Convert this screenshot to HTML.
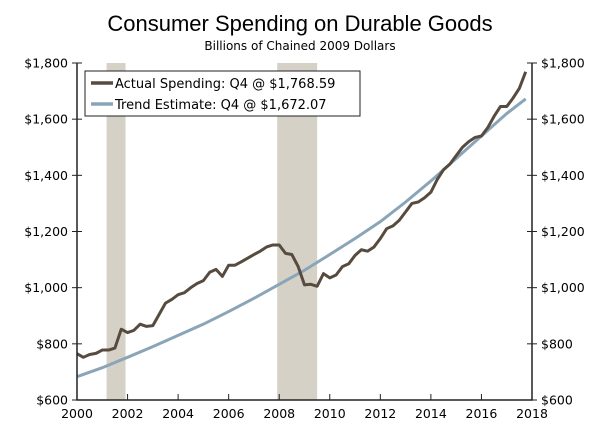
<!DOCTYPE html>
<html><head><meta charset="utf-8"><style>
html,body{margin:0;padding:0;background:#fff}
svg{display:block;font-family:"DejaVu Sans","Liberation Sans",sans-serif}
</style></head><body>
<svg id="chart" width="600" height="438">
<text x="300" y="31" text-anchor="middle" font-size="22" font-family="Liberation Sans, sans-serif" fill="#000">Consumer Spending on Durable Goods</text>
<text x="300" y="50" text-anchor="middle" font-size="12" fill="#000">Billions of Chained 2009 Dollars</text>
<g id="bands"></g><g id="grid"></g><g id="lines"></g><g id="axes"></g>
<g>
<rect x="85" y="71" width="275" height="45" fill="#fff" stroke="#222" stroke-width="1"/>
<line x1="91" y1="83" x2="113" y2="83" stroke="#574b40" stroke-width="3.5"/>
<text x="115" y="88" font-size="13">Actual Spending: Q4 @ $1,768.59</text>
<line x1="91" y1="104" x2="113" y2="104" stroke="#8aa5b8" stroke-width="3.5"/>
<text x="115" y="109" font-size="13">Trend Estimate: Q4 @ $1,672.07</text>
</g>
</svg>
<script>
const actual=[765,752,762,766, 778,778,785,852, 840,848,870,862, 865,905,945,958, 975,982,1000,1015, 1025,1055,1065,1040, 1080,1080,1092,1105, 1118,1130,1145,1152, 1152,1122,1118,1075, 1010,1012,1005,1050, 1035,1045,1075,1085, 1115,1135,1130,1145, 1175,1210,1220,1240, 1270,1300,1305,1320, 1340,1385,1420,1440, 1470,1500,1520,1535, 1540,1570,1610,1645, 1645,1675,1710,1768.59];
const trendYears=[2000,2001,2002,2003,2004,2005,2006,2007,2008,2009,2010,2011,2012,2013,2014,2015,2016,2017,2017.75];
const trendValues=[683,715,752,790,830,870,915,962,1012,1062,1118,1175,1235,1305,1380,1460,1540,1620,1672.07];
const recessions=[[2001.17,2001.92],[2007.92,2009.5]];
const yTicks=[600,800,1000,1200,1400,1600,1800];
const xTicks=[2000,2002,2004,2006,2008,2010,2012,2014,2016,2018];
const L=77,R=532,T=63,B=400;
const X=v=>L+(v-2000)/18*(R-L);
const Y=v=>B-(v-600)/1200*(B-T);
const NS='http://www.w3.org/2000/svg';
function mk(tag,parent,attrs){const e=document.createElementNS(NS,tag);for(const k in attrs)e.setAttribute(k,attrs[k]);document.getElementById(parent).appendChild(e);return e;}
recessions.forEach(r=>{const e=mk('rect','bands',{x:X(r[0]),y:T,width:X(r[1])-X(r[0]),height:B-T,fill:'#d6d1c6'});

});
const fmt=v=>'$'+v.toLocaleString('en-US');
yTicks.forEach(v=>{
 mk('line','axes',{x1:L-5,x2:L+5,y1:Y(v),y2:Y(v),stroke:'#222'});
 mk('line','axes',{x1:R-5,x2:R+5,y1:Y(v),y2:Y(v),stroke:'#222'});
 const a=mk('text','axes',{x:L-9,y:Y(v)+4.5,'text-anchor':'end','font-size':12.5});a.textContent=fmt(v);
 
 
 const b=mk('text','axes',{x:R+9,y:Y(v)+4.5,'font-size':12.5});b.textContent=fmt(v);
 
 
});
xTicks.forEach(v=>{
 mk('line','axes',{x1:X(v),x2:X(v),y1:B,y2:B-6,stroke:'#222'});
 const t=mk('text','axes',{x:X(v),y:B+18,'text-anchor':'middle','font-size':12.5});t.textContent=v;
 
 
});
const ax=mk('path','axes',{d:`M${L},${T}V${B}H${R}V${T}`,fill:'none',stroke:'#222','stroke-width':1.5});


const tp=mk('polyline','lines',{points:trendYears.map((y,i)=>X(y)+','+Y(trendValues[i])).join(' '),fill:'none',stroke:'#8aa5b8','stroke-width':3});


const ap=mk('polyline','lines',{points:actual.map((v,i)=>X(2000+i*0.25)+','+Y(v)).join(' '),fill:'none',stroke:'#574b40','stroke-width':3,'stroke-linejoin':'round'});


</script>
</body></html>
